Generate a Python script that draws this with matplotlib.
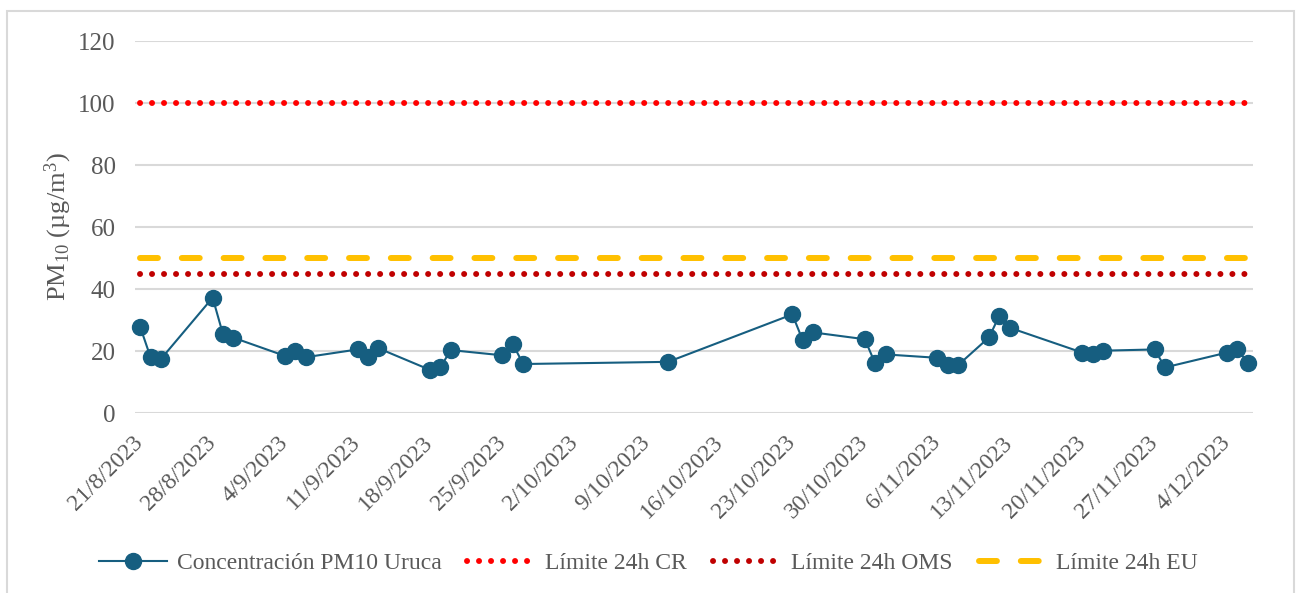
import datetime as dt

import matplotlib
matplotlib.use("Agg")
import matplotlib.pyplot as plt
from matplotlib.patches import Rectangle

# --- data ---
start_date = dt.date(2023, 8, 21)
day_offsets = [0, 1, 2, 7, 8, 9, 14, 15, 16, 21, 22, 23, 28, 29, 30, 35, 36, 37,
               51, 63, 64, 65, 70, 71, 72, 77, 78, 79, 82, 83, 84, 91, 92, 93,
               98, 99, 105, 106, 107]
pm10_uruca = [27.8, 18.0, 17.4, 37.2, 25.4, 24.3, 18.4, 20.1, 18.0, 20.5, 18.2, 20.9,
              13.9, 14.7, 20.3, 18.6, 22.2, 15.8, 16.5, 31.8, 23.5, 26.0, 23.8, 16.0,
              18.9, 17.8, 15.4, 15.4, 24.4, 31.4, 27.5, 19.5, 19.0, 20.1, 20.5, 14.7,
              19.5, 20.5, 16.2]
limit_cr = 100
limit_oms = 45
limit_eu = 50

series_labels = ["Concentración PM10 Uruca", "Límite 24h CR", "Límite 24h OMS", "Límite 24h EU"]
y_ticks = [0, 20, 40, 60, 80, 100, 120]
tick_step_days = 7
n_ticks = 16

dates = [dt.datetime.combine(start_date, dt.time()) + dt.timedelta(days=d) for d in day_offsets]
tick_dates = [dt.datetime.combine(start_date, dt.time()) + dt.timedelta(days=tick_step_days * i)
              for i in range(n_ticks)]
tick_labels = [f"{d.day}/{d.month}/{d.year}" for d in tick_dates]

plt.rcParams["font.family"] = ["Liberation Serif", "DejaVu Serif"]
plt.rcParams["mathtext.fontset"] = "custom"
plt.rcParams["mathtext.rm"] = "Liberation Serif"
plt.rcParams["mathtext.it"] = "Liberation Serif:italic"

TEXT = "#595959"
GRID = "#d9d9d9"
FS = 17

fig = plt.figure(figsize=(12.97, 5.93), dpi=100)
ax = fig.add_axes([135 / 1297, 1 - 413 / 593, (1253 - 135) / 1297, (413 - 41) / 593])

# outer chart border
fig.patches.append(Rectangle((7 / 1297, -0.05), (1294 - 7) / 1297, 1.05 - 11 / 593,
                             transform=fig.transFigure, fill=False,
                             edgecolor=GRID, linewidth=1.5))

line_kw = dict(linewidth=4.3, dash_capstyle="round", solid_capstyle="round")
ax.plot(dates, pm10_uruca, color="#165E80", linewidth=1.5, marker="o",
        markersize=11.5, label=series_labels[0], zorder=5, clip_on=False)
ax.plot(dates, [limit_cr] * len(dates), color="#FF0000", linestyle=(0, (0.01, 2.0)),
        label=series_labels[1], zorder=3, **line_kw)
ax.plot(dates, [limit_oms] * len(dates), color="#C00000", linestyle=(0, (0.01, 2.0)),
        label=series_labels[2], zorder=3, **line_kw)
ax.plot(dates, [limit_eu] * len(dates), color="#FFC000", linestyle=(0, (3.0, 4.0)),
        label=series_labels[3], zorder=3, **line_kw)

ax.set_xlim(dates[0] - dt.timedelta(hours=12), dates[-1] + dt.timedelta(hours=12))
ax.set_ylim(0, 120)
ax.set_yticks(y_ticks)
ax.set_xticks(tick_dates)
ax.set_xticklabels(tick_labels, rotation=45, ha="right", va="center",
                   rotation_mode="anchor")
ax.tick_params(axis="x", length=0, pad=19, labelsize=FS, labelcolor=TEXT)
ax.tick_params(axis="y", length=0, pad=14, labelsize=FS + 1, labelcolor=TEXT)
ax.grid(axis="y", color=GRID, linewidth=1.5)
ax.set_axisbelow(True)
for s in ax.spines.values():
    s.set_visible(False)

ax.set_ylabel("PM$_{10}$ (µg/m$^{3}$)", fontsize=FS + 2, color=TEXT, labelpad=3)

fig.legend(loc="center", bbox_to_anchor=(0.5, 1 - 563 / 593), ncol=4, frameon=False,
           fontsize=FS, labelcolor=TEXT, handlelength=2.9, handletextpad=0.4,
           columnspacing=1.1)

fig.savefig("out.png", dpi=100)
